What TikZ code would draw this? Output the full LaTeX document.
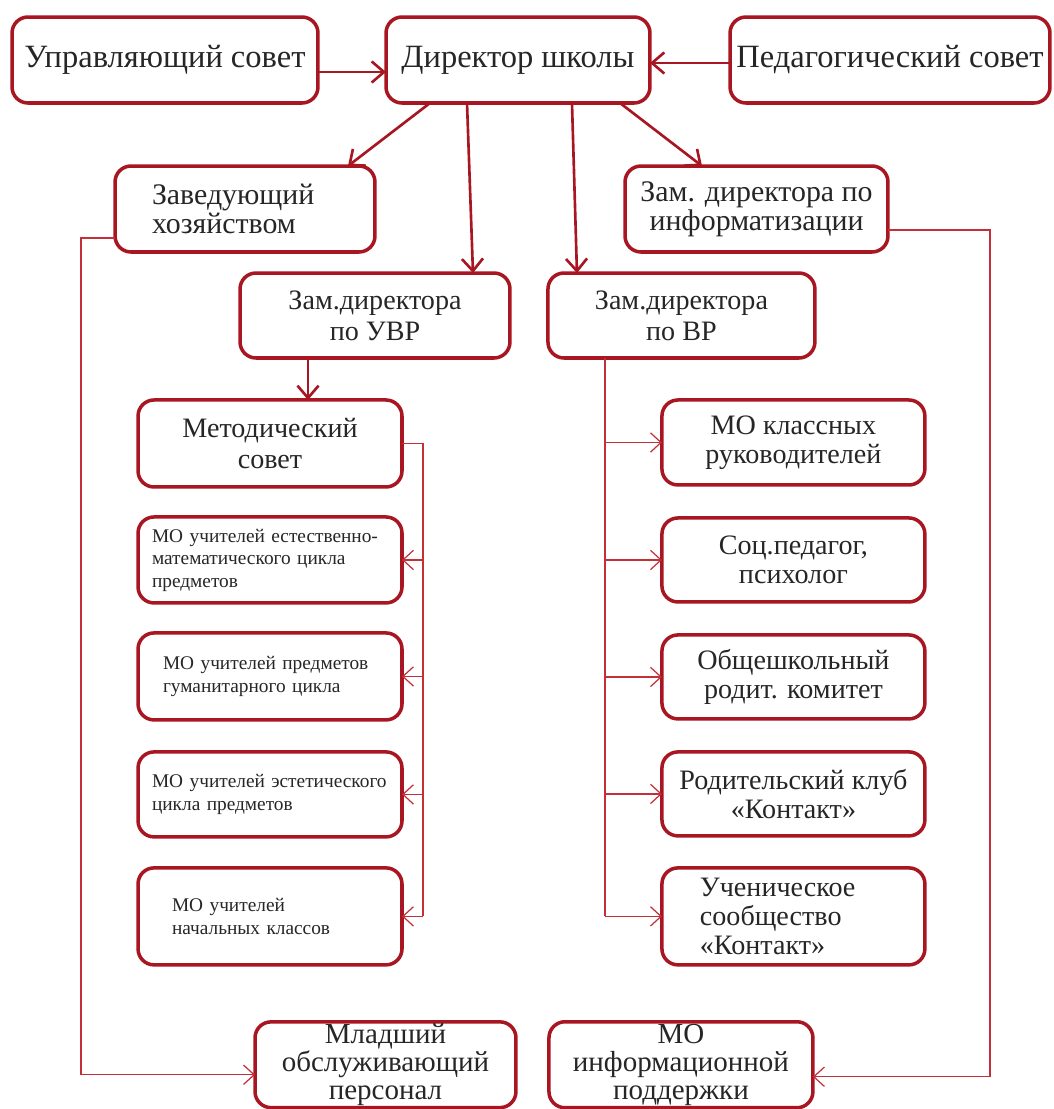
\documentclass[tikz,border=0pt]{standalone}
\usepackage{fontspec}
\setmainfont{Liberation Serif}
\usetikzlibrary{arrows.meta,positioning}
\definecolor{frame}{RGB}{168,22,34}
\definecolor{wirered}{RGB}{196,48,58}
\tikzset{unit/.style={draw=frame, line width=2pt, rounded corners=0.32cm, fill=white, align=center, inner sep=1pt, outer sep=0pt, text=black!85}}
\tikzset{line/.style={draw=frame, line width=1.5pt, -{Straight Barb[length=7pt,width=12pt]}}}
\tikzset{wire/.style={draw=wirered, line width=0.7pt, -{Straight Barb[length=6pt,width=11pt]}}}
\newcommand\ftop{\fontsize{18.5}{20}\selectfont}
\newcommand\fsec{\fontsize{17}{16.5}\selectfont}
\newcommand\fbot{\fontsize{16.5}{16}\selectfont}
\newcommand\fzam{\fontsize{16}{17.5}\selectfont}
\newcommand\fcol{\fontsize{16}{16.5}\selectfont}
\newcommand\fmo{\fontsize{11}{12.8}\selectfont}

\begin{document}
\begin{tikzpicture}[x=0.02cm,y=-0.02cm]
\useasboundingbox (0,0) rectangle (1054,1109);
% top row
\node [unit, minimum width=6.12cm, minimum height=1.72cm, font=\ftop] (us) at (165,60) {Управляющий совет};
\node [unit, minimum width=5.28cm, minimum height=1.72cm, font=\ftop] (d)  at (518,60) {Директор школы};
\node [unit, minimum width=6.4cm,  minimum height=1.72cm, font=\ftop] (ps) at (890,60) {Педагогический совет};
% deputies
\node [unit, minimum height=1.72cm, font=\fsec, align=left, text width=3.72cm, inner xsep=0.74cm] (zh) at (245,209) {Заведующий\\хозяйством};
\node [unit, minimum width=5.26cm, minimum height=1.72cm, font=\fsec] (zi) at (756.5,209) {Зам. директора по\\информатизации};
\node [unit, minimum width=5.4cm, minimum height=1.7cm, font=\fzam] (zu) at (375,315.5) {Зам.директора\\по УВР};
\node [unit, minimum width=5.34cm, minimum height=1.7cm, font=\fzam, right=0.76cm of zu] (zv) {Зам.директора\\по ВР};
% left column
\node [unit, minimum width=5.28cm, minimum height=1.74cm, font=\fzam, below=0.84cm of zu, xshift=-2.1cm] (ms) {Методический\\совет};
\node [unit, minimum height=1.72cm, font=\fmo, align=left, text width=4.72cm, inner xsep=0.28cm, below=0.6cm of ms] (m1) {МО учителей естественно-\\математического цикла\\предметов};
\node [unit, minimum height=1.74cm, font=\fmo, align=left, text width=4.28cm, inner xsep=0.5cm, below=0.6cm of m1] (m2) {МО учителей предметов\\гуманитарного цикла};
\node [unit, minimum height=1.7cm, font=\fmo, align=left, text width=4.72cm, inner xsep=0.28cm, below=0.64cm of m2] (m3) {МО учителей~эстетического\\цикла предметов};
\node [unit, minimum height=1.94cm, font=\fmo, align=left, text width=3.92cm, inner xsep=0.68cm, below=0.62cm of m3] (m4) {МО учителей\\начальных классов};
% right column
\node [unit, minimum width=5.26cm, minimum height=1.7cm, font=\fcol, below=0.84cm of zv, xshift=2.24cm] (v1) {МО классных\\руководителей};
\node [unit, minimum width=5.26cm, minimum height=1.68cm, font=\fcol, below=0.66cm of v1] (v2) {Соц.педагог,\\психолог};
\node [unit, minimum width=5.26cm, minimum height=1.68cm, font=\fcol, below=0.66cm of v2] (v3) {Общешкольный\\родит. комитет};
\node [unit, minimum width=5.26cm, minimum height=1.68cm, font=\fcol, below=0.66cm of v3] (v4) {Родительский клуб\\«Контакт»};
\node [unit, minimum height=1.94cm, font=\fcol, align=left, text width=3.74cm, inner xsep=0.76cm, below=0.64cm of v4] (v5) {Ученическое\\сообщество\\«Контакт»};
% bottom row
\node [unit, minimum width=5.22cm, minimum height=1.68cm, font=\fbot, below=1.14cm of m4, xshift=2.31cm] (mp) {Младший\\обслуживающий\\персонал};
\node [unit, minimum width=5.28cm, minimum height=1.72cm, font=\fbot, right=0.66cm of mp] (mi) {МО\\информационной\\поддержки};
%
\path [line] ([yshift=-0.24cm]us.east) -- ([yshift=-0.24cm]d.west);
\path [line] ([yshift=-0.06cm]ps.west) -- ([yshift=-0.06cm]d.east);
\path [line] ([xshift=-1.76cm]d.south) -- ([xshift=2.06cm]zh.north);
\path [line] ([xshift=-1.02cm]d.south) -- ([xshift=1.96cm]zu.north);
\path [line] ([xshift=1.08cm]d.south)  -- ([xshift=-2.09cm]zv.north);
\path [line] ([xshift=2.04cm]d.south)  -- ([xshift=-1.09cm]zi.north);
\path [line] ([xshift=-1.34cm]zu.south) -- ([xshift=-1.34cm]zu.south |- ms.north);
%
\coordinate (mb) at ([xshift=0.42cm]ms.east);
\draw [wire, -] (ms.east) -- (mb) -- (mb |- m4.east);
\foreach \n in {m1,m2,m3,m4}
  \draw [wire] (mb |- \n.east) -- (\n.east);
\coordinate (vb) at ([xshift=-1.53cm]zv.south);
\draw [wire, -] (vb) -- (vb |- v5.east);
\foreach \n in {v1,v2,v3,v4,v5}
  \draw [wire] (vb |- \n.east) -- (\n.west);
%
\draw [wire] ([yshift=-0.58cm]zh.west) -- ++(-0.68cm,0) |- ([yshift=-0.2cm]mp.west);
\draw [wire] ([yshift=-0.42cm]zi.east) -- ++(2.04cm,0) |- ([yshift=-0.24cm]mi.east);
\end{tikzpicture}
\end{document}
